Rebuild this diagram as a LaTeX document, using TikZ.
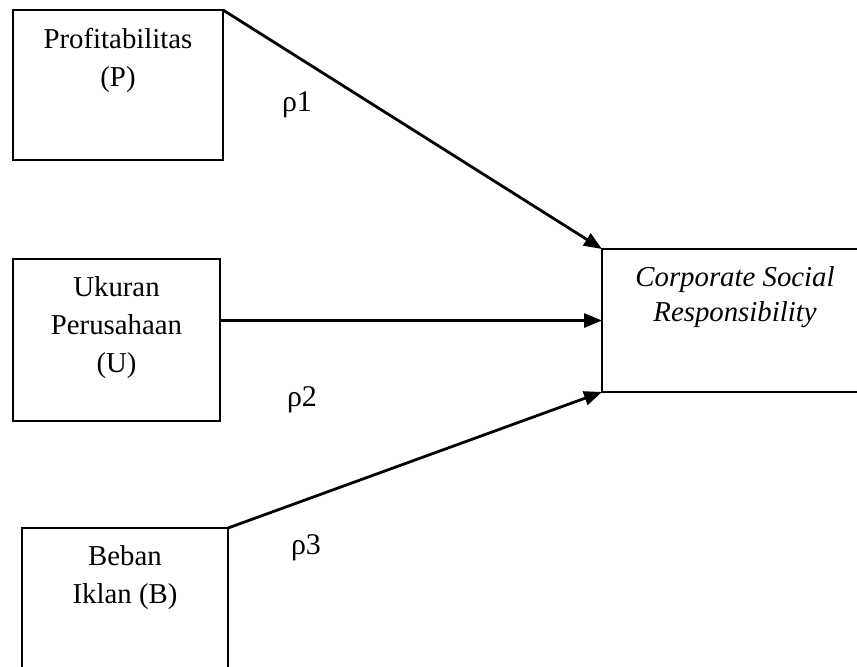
\documentclass[tikz,border=0pt]{standalone}
\usepackage{fontspec}
\setmainfont{Liberation Serif}
\usetikzlibrary{arrows.meta,positioning}

\tikzset{
    varbox/.style={draw, line width=1pt, inner sep=0pt, outer sep=0pt},
    vartext/.style={anchor=north, align=center, inner sep=0pt,
        font=\fontsize{14.4pt}{19pt}\selectfont},
    path/.style={line width=1.4pt, -{Triangle[length=9pt,width=7pt]}},
    coef/.style={inner sep=0pt, font=\fontsize{15pt}{19pt}\selectfont}
}

\begin{document}
\begin{tikzpicture}[x=0.5pt, y=-0.5pt]
    \useasboundingbox (0,0) rectangle (857,666);
    \clip (0,0) rectangle (857,666);

    % variable boxes
    \node[varbox, minimum width=105pt, minimum height=75pt] (prof) at (118,85) {};
    \node[varbox, minimum width=103.5pt, minimum height=81pt] (ukur) at (116.5,340) {};
    \node[varbox, minimum width=103pt, minimum height=86pt] (beban) at (125,614) {};
    \node[varbox, minimum width=133pt, minimum height=71.5pt] (csr) at (735,320.5) {};

    \node[vartext, below=9pt of prof.north] (proftext) {Profitabilitas\\(P)};
    \node[vartext, below=8.5pt of ukur.north] (ukurtext) {Ukuran\\Perusahaan\\(U)};
    \node[vartext, below=8.5pt of beban.north] (bebantext) {Beban\\Iklan (B)};
    \node[vartext, below=8.5pt of csr.north, font=\fontsize{14.4pt}{17.5pt}\selectfont\itshape] (csrtext)
        {Corporate Social\\Responsibility};

    % paths
    \draw[path] (prof.north east) -- (csr.north west);
    \draw[path] (ukur.east |- csr.west) -- (csr.west);
    \draw[path] (beban.north east) -- (csr.south west);

    % coefficients
    \node[coef] (rho1) at (297,105) {ρ1};
    \node[coef] (rho2) at (302,400) {ρ2};
    \node[coef] (rho3) at (306,548) {ρ3};
\end{tikzpicture}
\end{document}
